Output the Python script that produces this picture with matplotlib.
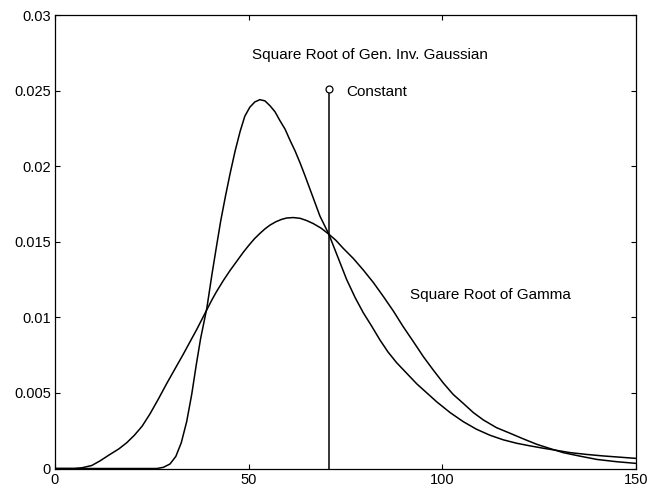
import matplotlib
matplotlib.use('Agg')
import matplotlib.pyplot as plt

# Square root of generalized inverse Gaussian density
gig_x = [0, 26.3, 28.0, 29.7, 31.2, 32.6, 34.0, 35.3, 36.5, 37.6, 39.2, 40.5, 41.7, 42.8,
         44.0, 45.2, 46.5, 47.8, 49.0, 50.3, 51.6, 52.9, 54.2, 55.5, 56.8, 58.1, 59.4,
         60.7, 62.0, 63.3, 64.5, 65.8, 67.1, 68.4, 70.7, 73.0, 75.3, 77.5, 79.6, 81.8,
         83.9, 86.0, 88.2, 90.8, 93.4, 96.0, 98.6, 102.0, 105.4, 108.8, 112.3, 115.7,
         119.2, 122.6, 126.1, 129.5, 133.0, 137.3, 141.6, 145.8, 150]
gig_y = [0, 0, 0.00008, 0.0003, 0.0008, 0.0017, 0.0031, 0.0049, 0.0069, 0.0086, 0.0106,
         0.0128, 0.0147, 0.0164, 0.0180, 0.0195, 0.0210, 0.0223, 0.0233, 0.0239, 0.02425,
         0.0244, 0.02432, 0.0240, 0.0236, 0.0230, 0.02245, 0.0217, 0.0210, 0.0202, 0.0194,
         0.0185, 0.0176, 0.0167, 0.0155, 0.0140, 0.0125, 0.0113, 0.0103, 0.0094, 0.0085,
         0.0077, 0.0070, 0.0063, 0.0056, 0.0050, 0.0044, 0.0037, 0.0031, 0.0026, 0.0022,
         0.0019, 0.00167, 0.0015, 0.00134, 0.0012, 0.00105, 0.00093, 0.00083, 0.00075,
         0.00067]

# Square root of gamma density
gamma_x = [0, 5.0, 7.0, 9.5, 11.6, 14.0, 16.5, 18.5, 20.5, 22.5, 24.5, 26.7, 28.8, 31.0,
           33.1, 34.9, 36.6, 38.0, 39.2, 40.5, 41.7, 43.5, 45.2, 46.9, 48.6, 50.0, 51.5,
           52.9, 54.2, 55.5, 57.0, 58.5, 59.8, 61.5, 63.3, 65.0, 66.7, 68.7, 70.7, 72.5,
           74.4, 77.0, 79.6, 82.2, 84.8, 87.4, 89.9, 92.5, 95.1, 97.7, 100.3, 102.8, 105.4,
           108.0, 110.6, 114.0, 117.5, 121.0, 124.4, 127.8, 131.2, 135.5, 139.9, 145.0, 150]
gamma_y = [0, 0, 0.00005, 0.0002, 0.0005, 0.0009, 0.0013, 0.0017, 0.0022, 0.0028, 0.0036,
           0.0046, 0.0056, 0.0066, 0.00755, 0.0084, 0.0092, 0.0099, 0.0105, 0.01115, 0.0117,
           0.01245, 0.0131, 0.0137, 0.0143, 0.01475, 0.0152, 0.01555, 0.01585, 0.0161,
           0.01632, 0.01648, 0.01657, 0.0166, 0.01655, 0.0164, 0.0162, 0.0159, 0.0155,
           0.0151, 0.01457, 0.0139, 0.01313, 0.0123, 0.01137, 0.0104, 0.00938, 0.0084,
           0.0074, 0.0065, 0.00564, 0.0049, 0.00431, 0.0037, 0.00321, 0.0027, 0.00233,
           0.00195, 0.0016, 0.00132, 0.00105, 0.00082, 0.0006, 0.00045, 0.00034]

# constant (a single spike)
const_x = 70.7
const_y = 0.0251

x_ticks = [0, 50, 100, 150]
y_ticks = [0, 0.005, 0.01, 0.015, 0.02, 0.025, 0.03]
y_tick_labels = ['0', '0.005', '0.01', '0.015', '0.02', '0.025', '0.03']

plt.rcParams['font.family'] = ['Liberation Sans', 'DejaVu Sans']

fig = plt.figure(figsize=(6.49, 4.84), dpi=100)
ax = fig.add_axes([0.0847, 0.032, 0.8953, 0.937])

ax.plot(gig_x, gig_y, color='black', lw=1.1)
ax.plot(gamma_x, gamma_y, color='black', lw=1.1)
ax.plot([const_x, const_x], [0, const_y], color='black', lw=1.1)
ax.plot([const_x], [const_y], marker='o', ms=5, mfc='white', mec='black', mew=0.9)

ax.text(50.8, 0.02735, 'Square Root of Gen. Inv. Gaussian', fontsize=11, va='center')
ax.text(75.3, 0.02493, 'Constant', fontsize=11, va='center')
ax.text(91.7, 0.01148, 'Square Root of Gamma', fontsize=11, va='center')

ax.set_xlim(0, 150)
ax.set_ylim(0, 0.03)
ax.set_xticks(x_ticks)
ax.set_xticklabels([str(t) for t in x_ticks])
ax.set_yticks(y_ticks)
ax.set_yticklabels(y_tick_labels)
ax.tick_params(direction='in', length=3.5, width=0.8, labelsize=10.5, pad=3,
               top=True, right=True)
for s in ax.spines.values():
    s.set_linewidth(0.9)

fig.savefig('out.png', dpi=100)
